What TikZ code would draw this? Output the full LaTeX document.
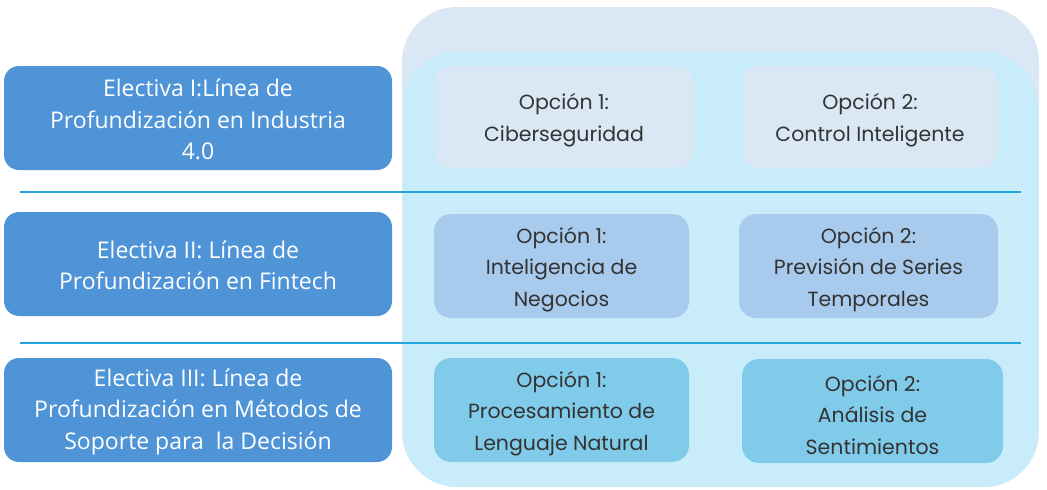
\documentclass[tikz,border=0pt]{standalone}
\usepackage{fontspec}
\setmainfont{Open Sans}
\newfontfamily\optfont{Poppins}
\definecolor{leftblue}{HTML}{5094D8}
\definecolor{outerbg}{HTML}{DAE8F5}
\definecolor{innerbg}{HTML}{C9ECFA}
\definecolor{rowone}{HTML}{DAE8F5}
\definecolor{rowtwo}{HTML}{A8CAEC}
\definecolor{rowthree}{HTML}{81CBEA}
\definecolor{sepline}{HTML}{21A5DD}
\definecolor{opttext}{HTML}{333333}
\tikzset{
  leftbox/.style={fill=leftblue, rounded corners=15pt, minimum width=388pt, minimum height=104pt,
     inner sep=0pt},
  lefttext/.style={text=white, align=center, inner sep=0pt, font=\fontsize{23}{31.5}\selectfont},
  optbox/.style={rounded corners=17pt, inner sep=0pt},
  opttxt/.style={align=center, inner sep=0pt, text=opttext,
     font=\optfont\fontsize{20.5}{31.5}\selectfont},
  sepstyle/.style={draw=sepline, line width=2pt}
}
\begin{document}
\begin{tikzpicture}[x=1pt,y=-1pt]
\useasboundingbox (0,0) rectangle (1047,490);
% panels
\node[fill=outerbg, rounded corners=55pt, minimum width=637pt, minimum height=480pt, inner sep=0pt] (outer) at (720.5,247) {};
\node[fill=innerbg, rounded corners=55pt, minimum width=635pt, minimum height=435pt, inner sep=0pt] (inner) at (720.5,269.5) {};
% left boxes
\node[leftbox] (e1) at (198,118) {};
\node[leftbox] (e2) at (198,264) {};
\node[leftbox] (e3) at (198,410) {};
\node[lefttext] (e1t) at ([yshift=-1.5pt]e1.center) {Electiva I:Línea de\\Profundización en Industria\\4.0};
\node[lefttext] (e2t) at ([yshift=-1.5pt]e2.center) {Electiva II: Línea de\\Profundización en Fintech};
\node[lefttext] (e3t) at ([yshift=-1.5pt]e3.center) {Electiva III: Línea de\\Profundización en Métodos de\\Soporte para\ \ la Decisión};
% separators
\coordinate (s1a) at (20,192); \coordinate (s1b) at (1021,192);
\coordinate (s2a) at (20,343); \coordinate (s2b) at (1021,343);
\draw[sepstyle] (s1a) -- (s1b);
\draw[sepstyle] (s2a) -- (s2b);
% options row 1
\node[optbox, fill=rowone, minimum width=260pt, minimum height=102pt] (o11) at (564,117) {};
\node[optbox, fill=rowone, minimum width=256pt, minimum height=102pt] (o12) at (870,117) {};
% row 2
\node[optbox, fill=rowtwo, minimum width=255pt, minimum height=104pt] (o21) at (561.5,266) {};
\node[optbox, fill=rowtwo, minimum width=259pt, minimum height=104pt] (o22) at (868.5,266) {};
% row 3
\node[optbox, fill=rowthree, minimum width=255pt, minimum height=104pt] (o31) at (561.5,410) {};
\node[optbox, fill=rowthree, minimum width=261pt, minimum height=104pt] (o32) at (872.5,411) {};
% option texts
\node[opttxt] (t11) at ([yshift=-3pt]o11.center) {Opción 1:\\Ciberseguridad};
\node[opttxt] (t12) at ([yshift=-3pt]o12.center) {Opción 2:\\Control Inteligente};
\node[opttxt] (t21) at ([yshift=-3.5pt]o21.center) {Opción 1:\\Inteligencia de\\Negocios};
\node[opttxt] (t22) at ([yshift=-3.5pt]o22.center) {Opción 2:\\Previsión de Series\\Temporales};
\node[opttxt] (t31) at ([yshift=-3.5pt]o31.center) {Opción 1:\\Procesamiento de\\Lenguaje Natural};
\node[opttxt] (t32) at ([yshift=-3.5pt]o32.center) {Opción 2:\\Análisis de\\Sentimientos};
\end{tikzpicture}
\end{document}
